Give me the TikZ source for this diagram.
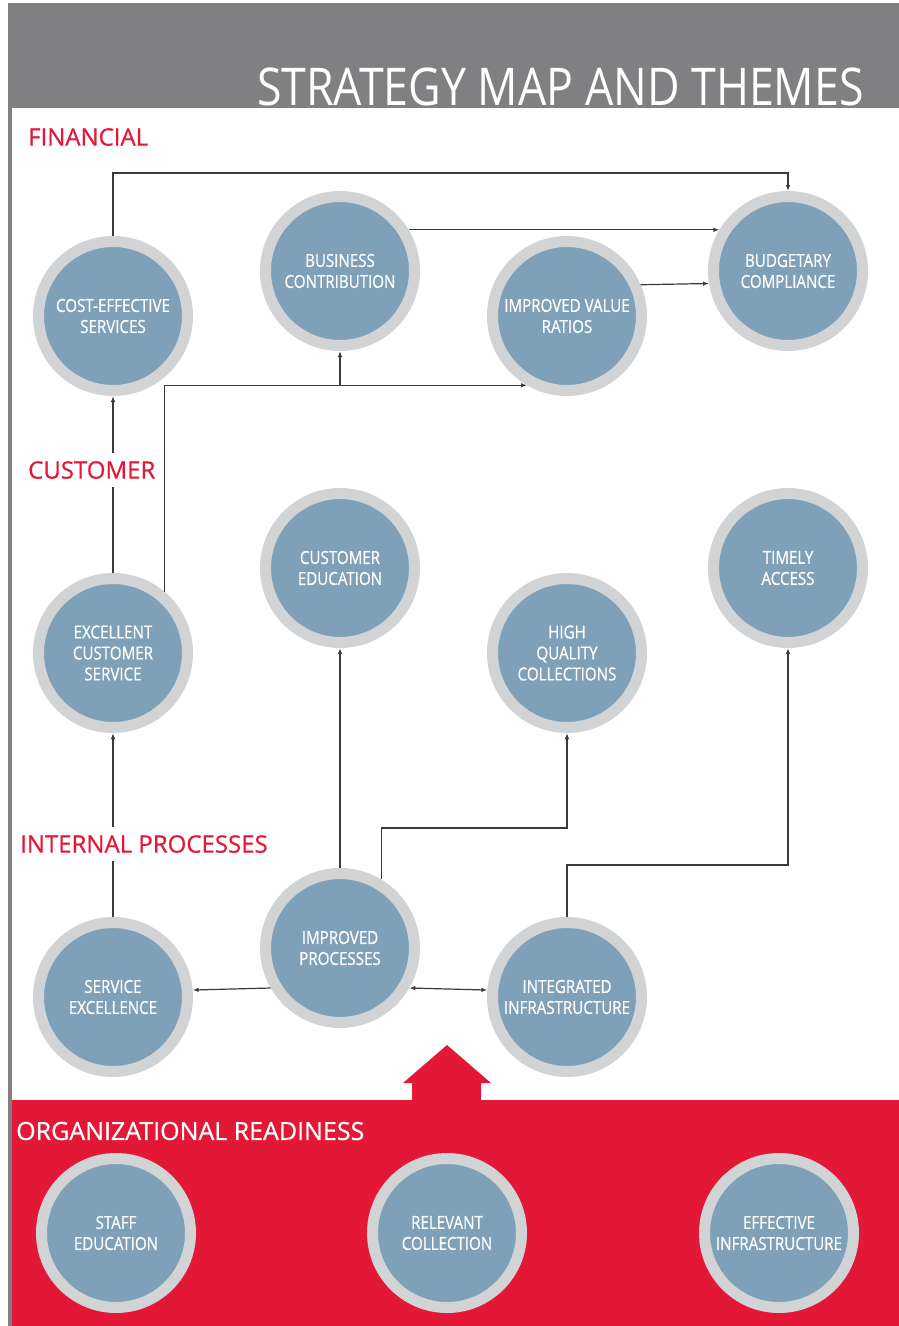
\documentclass[tikz,border=0pt]{standalone}
\usepackage{fontspec}
\usetikzlibrary{arrows.meta}
\newfontfamily\circfont{Open Sans}[FakeStretch=0.84, FakeBold=0.6]
\newfontfamily\headfont{Open Sans}[FakeStretch=1.0, FakeBold=0.6]
\newfontfamily\titlefont{Open Sans}[FakeStretch=0.86]
\definecolor{ringgray}{HTML}{D1D3D4}
\definecolor{steel}{HTML}{7EA1B9}
\definecolor{mapred}{HTML}{E31837}
\definecolor{headgray}{HTML}{808083}
\definecolor{linegray}{HTML}{3A3A3A}
\tikzset{
    goal/.style={circle, fill=steel, draw=ringgray, line width=11pt,
        minimum size=149pt, inner sep=0pt, text=white, align=center,
        font=\circfont\fontsize{18}{21}\selectfont},
    link/.style={draw=linegray, line width=1.2pt, -{Latex[length=6pt,width=4.5pt]}},
    perspective/.style={anchor=west, text=mapred, fill=white, inner xsep=2pt, inner ysep=8pt,
        font=\headfont\fontsize{24}{24}\selectfont},
}
\begin{document}
\begin{tikzpicture}[x=1pt,y=-1pt]
    \useasboundingbox (0,0) rectangle (899,1326);
    % frame, header and readiness band
    \fill[headgray] (8,3) rectangle (899,108);
    \fill[headgray] (8,3) rectangle (12,1326);
    \fill[mapred] (12,1100) rectangle (899,1326);
    \fill[mapred] (412,1101) -- (412,1083) -- (403,1083) -- (447,1045) -- (491,1083)
        -- (481,1083) -- (481,1101) -- cycle;
    \node[anchor=base east, text=white, inner sep=0pt,
        font=\titlefont\fontsize{52}{52}\selectfont] (title) at (864,105) {STRATEGY MAP AND THEMES};

    % financial
    \node[goal] (cost) at (113,316) {COST-EFFECTIVE\\SERVICES};
    \node[goal] (biz) at (340,271) {BUSINESS\\CONTRIBUTION};
    \node[goal] (ivr) at (567,316) {IMPROVED VALUE\\RATIOS};
    \node[goal] (budget) at (788,271) {BUDGETARY\\COMPLIANCE};
    % customer
    \node[goal] (ce) at (340,568) {CUSTOMER\\EDUCATION};
    \node[goal] (ta) at (788,568) {TIMELY\\ACCESS};
    \node[goal] (ecs) at (113,653) {EXCELLENT\\CUSTOMER\\SERVICE};
    \node[goal] (hqc) at (567,653) {HIGH\\QUALITY\\COLLECTIONS};
    % internal processes
    \node[goal] (ip) at (340,948) {IMPROVED\\PROCESSES};
    \node[goal] (se) at (113,997) {SERVICE\\EXCELLENCE};
    \node[goal] (ii) at (567,997) {INTEGRATED\\INFRASTRUCTURE};
    % organizational readiness
    \node[goal] (staff) at (116,1233) {STAFF\\EDUCATION};
    \node[goal] (coll) at (447,1233) {RELEVANT\\COLLECTION};
    \node[goal] (infra) at (779,1233) {EFFECTIVE\\INFRASTRUCTURE};

    \coordinate (topbar) at (0,173);
    \coordinate (bendA) at (0,828);
    \coordinate (bendB) at (0,865);
    \draw[link] (cost.north) -- (cost.north |- topbar) -| (budget.north);
    \draw[link] (biz.31) -- (budget.149);
    \draw[link] (ivr.23) -- (budget.189);
    \draw[link] (ecs.50) |- (ivr.240);
    \draw[link] (ecs.50 |- ivr.240) -| (biz.south);
    \draw[link] (ecs.north) -- (cost.south);
    \draw[link] (se.north) -- (ecs.south);
    \draw[link] (ip.north) -- (ce.south);
    \draw[link] (ip.59) -- (ip.59 |- bendA) -| (hqc.south);
    \draw[link] (ii.north) -- (ii.north |- bendB) -| (ta.south);
    \draw[link] (ip.210) -- (se.5);
    \draw[link, {Latex[length=6pt,width=4.5pt]}-{Latex[length=6pt,width=4.5pt]}] (ip.330) -- (ii.175);

    % perspective labels
    \node[perspective] (fin) at (26,137) {FINANCIAL};
    \node[perspective] (cust) at (26,470) {CUSTOMER};
    \node[perspective] (proc) at (18,844) {INTERNAL PROCESSES};
    \node[perspective, text=white, fill=none, font=\headfont\fontsize{25}{25}\selectfont] (ready) at (14,1131) {ORGANIZATIONAL READINESS};
\end{tikzpicture}
\end{document}
